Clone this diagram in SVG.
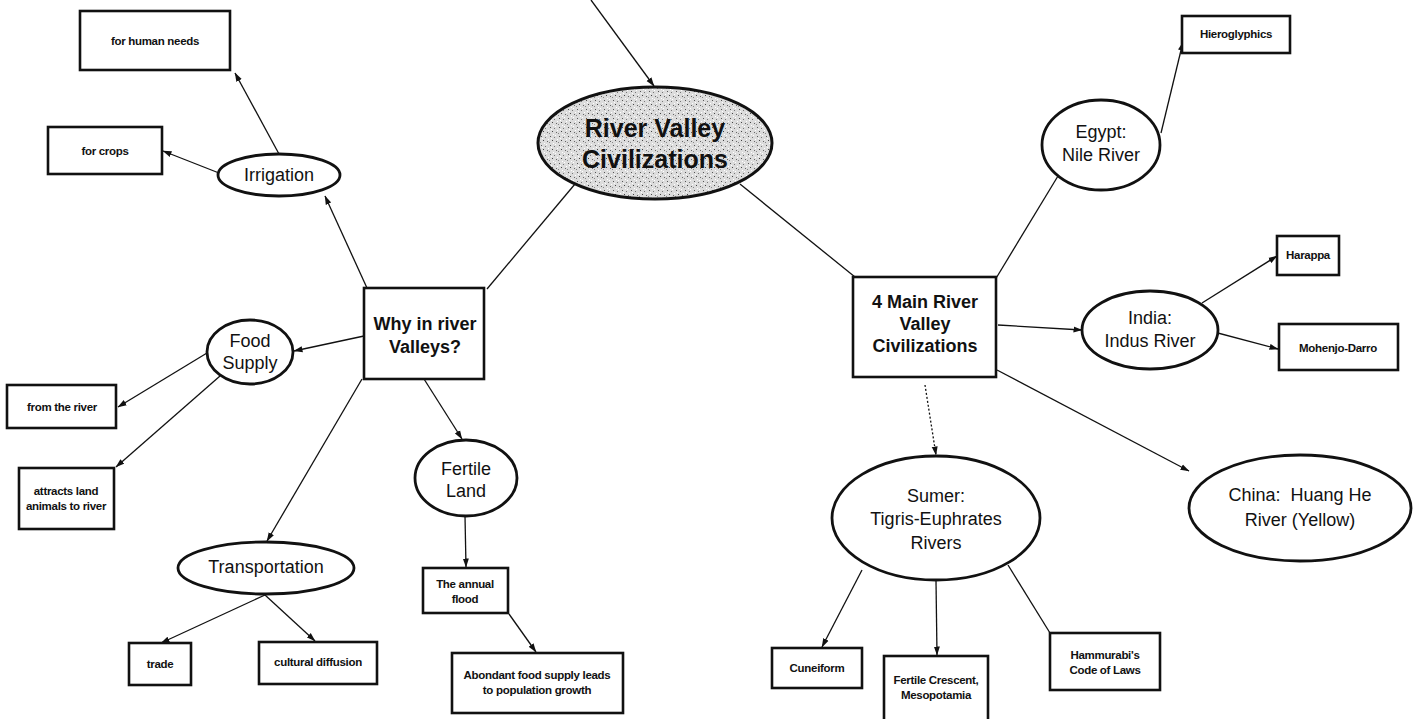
<svg xmlns="http://www.w3.org/2000/svg" width="1414" height="719" viewBox="0 0 1414 719">
<defs>
<marker id="arr" markerWidth="9" markerHeight="7" refX="8.5" refY="3.5" orient="auto" markerUnits="userSpaceOnUse">
<path d="M0,0.5 L9,3.5 L0,6.5 Z" fill="#111"/>
</marker>
<pattern id="stip" width="9" height="9" patternUnits="userSpaceOnUse">
<rect width="9" height="9" fill="#dcdcdc"/>
<rect x="1" y="1" width="1" height="1" fill="#555"/>
<rect x="5" y="2" width="1" height="1" fill="#777"/>
<rect x="3" y="5" width="1" height="1" fill="#444"/>
<rect x="7" y="6" width="1" height="1" fill="#666"/>
<rect x="0" y="7" width="1" height="1" fill="#888"/>
<rect x="6" y="0" width="1" height="1" fill="#fff"/>
<rect x="2" y="3" width="1" height="1" fill="#fff"/>
<rect x="8" y="4" width="1" height="1" fill="#fff"/>
<rect x="4" y="8" width="1" height="1" fill="#fff"/>
</pattern>
</defs>
<style>
.box{fill:#fff;stroke:#111;stroke-width:2.6}
.ell{fill:#fff;stroke:#111;stroke-width:2.8}
.c{stroke:#111;stroke-width:1.3;fill:none}
.a{marker-end:url(#arr)}
.d{stroke-dasharray:2 2}
text{font-family:"Liberation Sans",Arial,sans-serif;fill:#111;text-anchor:middle;dominant-baseline:central}
.s{font-size:11.5px;font-weight:bold;letter-spacing:-0.3px}
.m{font-size:18px}
.b{font-size:18px;font-weight:bold}
.t{font-size:25px;font-weight:bold}
</style>
<rect width="1414" height="719" fill="#fff"/>

<g id="connectors">
<line class="c a" x1="591" y1="0" x2="654" y2="86"/>
<line class="c" x1="575" y1="184" x2="487" y2="289"/>
<line class="c" x1="740" y1="184" x2="855" y2="277"/>
<line class="c a" x1="279" y1="154" x2="235" y2="73"/>
<line class="c a" x1="219" y1="173" x2="163" y2="151"/>
<line class="c a" x1="367" y1="288" x2="325" y2="196"/>
<line class="c a" x1="364" y1="336" x2="294" y2="351"/>
<line class="c a" x1="207" y1="353" x2="118" y2="407"/>
<line class="c a" x1="220" y1="376" x2="116" y2="467"/>
<line class="c a" x1="362" y1="379" x2="267" y2="541"/>
<line class="c a" x1="265" y1="595" x2="161" y2="643"/>
<line class="c a" x1="265" y1="595" x2="315" y2="641"/>
<line class="c a" x1="424" y1="379" x2="462" y2="439"/>
<line class="c a" x1="465" y1="516" x2="466" y2="567"/>
<line class="c a" x1="509" y1="614" x2="536" y2="652"/>
<line class="c" x1="995" y1="280" x2="1058" y2="176"/>
<line class="c a" x1="1161" y1="133" x2="1183" y2="42"/>
<line class="c a" x1="998" y1="325" x2="1082" y2="330"/>
<line class="c a" x1="1202" y1="303" x2="1277" y2="256"/>
<line class="c a" x1="1214" y1="332" x2="1278" y2="349"/>
<line class="c a d" x1="925" y1="385" x2="936" y2="455"/>
<line class="c a" x1="997" y1="370" x2="1189" y2="471"/>
<line class="c a" x1="862" y1="570" x2="822" y2="647"/>
<line class="c a" x1="936" y1="581" x2="937" y2="655"/>
<line class="c" x1="1008" y1="565" x2="1050" y2="633"/>
</g>

<g id="n-center">
<ellipse cx="655" cy="143" rx="117" ry="56" fill="url(#stip)" stroke="#111" stroke-width="3"/>
<text class="t" x="655" y="128">River Valley</text>
<text class="t" x="655" y="159">Civilizations</text>
</g>

<g id="n-why">
<rect class="box" x="364" y="288" width="120" height="91"/>
<text class="b" x="425" y="324">Why in river</text>
<text class="b" x="425" y="347">Valleys?</text>
</g>

<g id="n-irrigation">
<ellipse class="ell" cx="279" cy="175" rx="61" ry="21"/>
<text class="m" x="279" y="175">Irrigation</text>
</g>
<g id="n-human">
<rect class="box" x="80" y="11" width="150" height="59"/>
<text class="s" x="155" y="41">for human needs</text>
</g>
<g id="n-crops">
<rect class="box" x="48" y="127" width="114" height="47"/>
<text class="s" x="105" y="151">for crops</text>
</g>

<g id="n-food">
<ellipse class="ell" cx="250" cy="352" rx="43" ry="32"/>
<text class="m" x="250" y="341">Food</text>
<text class="m" x="250" y="363">Supply</text>
</g>
<g id="n-fromriver">
<rect class="box" x="7" y="385" width="109" height="43"/>
<text class="s" x="62" y="407">from the river</text>
</g>
<g id="n-attracts">
<rect class="box" x="19" y="468" width="95" height="61"/>
<text class="s" x="66" y="491">attracts land</text>
<text class="s" x="66" y="506">animals to river</text>
</g>

<g id="n-transport">
<ellipse class="ell" cx="266" cy="568" rx="88" ry="26"/>
<text class="m" x="266" y="567">Transportation</text>
</g>
<g id="n-trade">
<rect class="box" x="129" y="643" width="62" height="42"/>
<text class="s" x="160" y="664">trade</text>
</g>
<g id="n-cultural">
<rect class="box" x="259" y="642" width="118" height="42"/>
<text class="s" x="318" y="662">cultural diffusion</text>
</g>

<g id="n-fertile">
<ellipse class="ell" cx="466" cy="478" rx="51" ry="38"/>
<text class="m" x="466" y="469">Fertile</text>
<text class="m" x="466" y="491">Land</text>
</g>
<g id="n-flood">
<rect class="box" x="423" y="568" width="85" height="45"/>
<text class="s" x="465" y="584">The annual</text>
<text class="s" x="465" y="599">flood</text>
</g>
<g id="n-abundant">
<rect class="box" x="452" y="653" width="171" height="60"/>
<text class="s" x="537" y="675">Abondant food supply leads</text>
<text class="s" x="537" y="690">to population growth</text>
</g>

<g id="n-main">
<rect class="box" x="853" y="277" width="143" height="100"/>
<text class="b" x="925" y="302">4 Main River</text>
<text class="b" x="925" y="324">Valley</text>
<text class="b" x="925" y="346">Civilizations</text>
</g>

<g id="n-egypt">
<ellipse class="ell" cx="1101" cy="145" rx="59" ry="45"/>
<text class="m" x="1101" y="132">Egypt:</text>
<text class="m" x="1101" y="155">Nile River</text>
</g>
<g id="n-hiero">
<rect class="box" x="1182" y="16" width="108" height="37"/>
<text class="s" x="1236" y="34">Hieroglyphics</text>
</g>

<g id="n-india">
<ellipse class="ell" cx="1150" cy="330" rx="68" ry="39"/>
<text class="m" x="1150" y="318">India:</text>
<text class="m" x="1150" y="341">Indus River</text>
</g>
<g id="n-harappa">
<rect class="box" x="1277" y="236" width="62" height="39"/>
<text class="s" x="1308" y="255">Harappa</text>
</g>
<g id="n-mohenjo">
<rect class="box" x="1279" y="324" width="119" height="46"/>
<text class="s" x="1338" y="348">Mohenjo-Darro</text>
</g>

<g id="n-sumer">
<ellipse class="ell" cx="936" cy="518" rx="104" ry="62"/>
<text class="m" x="936" y="496">Sumer:</text>
<text class="m" x="936" y="519">Tigris-Euphrates</text>
<text class="m" x="936" y="543">Rivers</text>
</g>
<g id="n-cuneiform">
<rect class="box" x="772" y="648" width="90" height="40"/>
<text class="s" x="817" y="668">Cuneiform</text>
</g>
<g id="n-crescent">
<rect class="box" x="884" y="656" width="104" height="66"/>
<text class="s" x="936" y="680">Fertile Crescent,</text>
<text class="s" x="936" y="695">Mesopotamia</text>
</g>
<g id="n-hammurabi">
<rect class="box" x="1050" y="633" width="110" height="57"/>
<text class="s" x="1105" y="655">Hammurabi's</text>
<text class="s" x="1105" y="670">Code of Laws</text>
</g>

<g id="n-china">
<ellipse class="ell" cx="1300" cy="508" rx="111" ry="53"/>
<text class="m" x="1300" y="495" xml:space="preserve">China:  Huang He</text>
<text class="m" x="1300" y="520">River (Yellow)</text>
</g>
</svg>
